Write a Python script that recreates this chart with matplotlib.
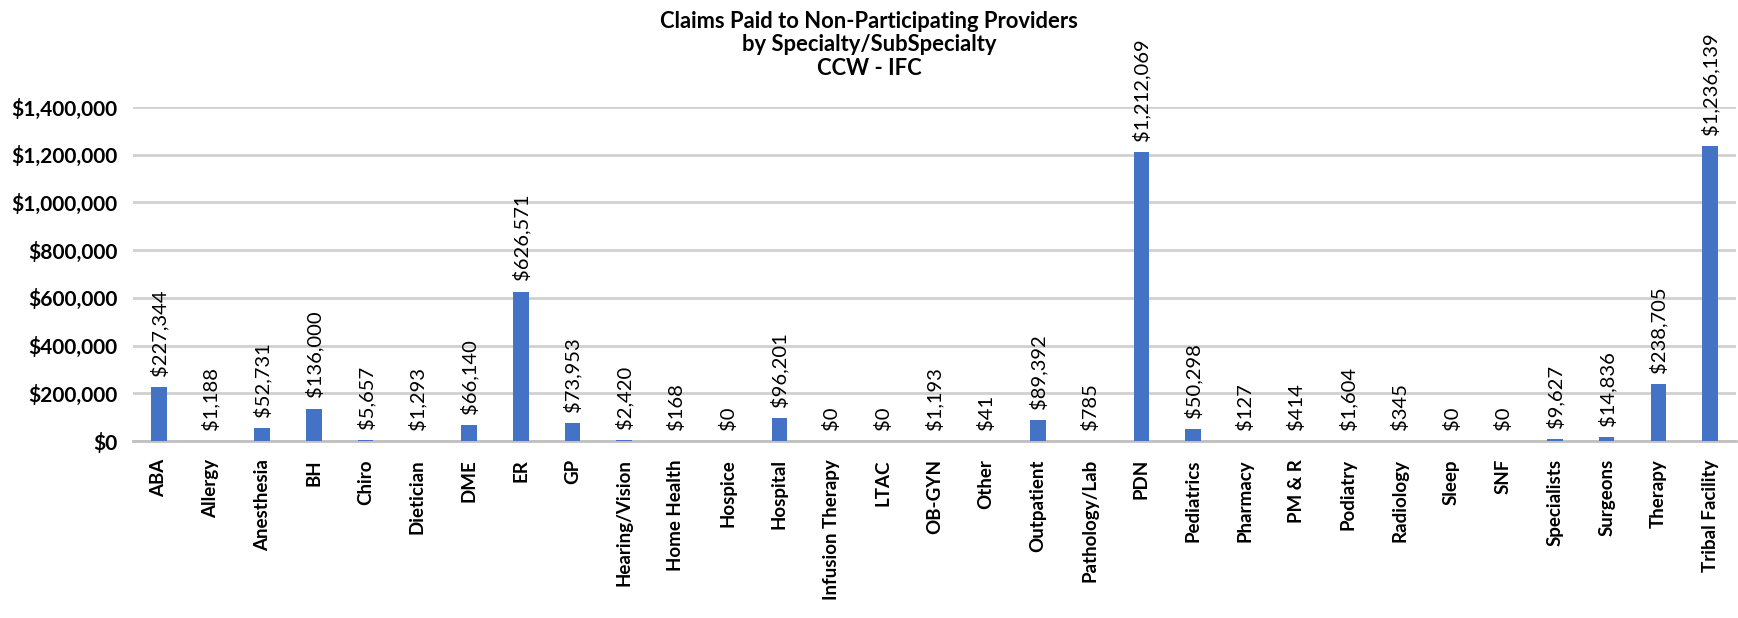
import matplotlib.pyplot as plt
from matplotlib.ticker import FuncFormatter

plt.rcParams['font.family'] = ['Lato', 'DejaVu Sans']

specialties = ["ABA", "Allergy", "Anesthesia", "BH", "Chiro", "Dietician", "DME", "ER", "GP",
               "Hearing/Vision", "Home Health", "Hospice", "Hospital", "Infusion Therapy", "LTAC",
               "OB-GYN", "Other", "Outpatient", "Pathology/Lab", "PDN", "Pediatrics", "Pharmacy",
               "PM & R", "Podiatry", "Radiology", "Sleep", "SNF", "Specialists", "Surgeons",
               "Therapy", "Tribal Facility"]
paid = [227344, 1188, 52731, 136000, 5657, 1293, 66140, 626571, 73953,
        2420, 168, 0, 96201, 0, 0,
        1193, 41, 89392, 785, 1212069, 50298, 127,
        414, 1604, 345, 0, 0, 9627, 14836,
        238705, 1236139]
y_ticks = [0, 200000, 400000, 600000, 800000, 1000000, 1200000, 1400000]

fig = plt.figure(figsize=(17.38, 6.18), dpi=100)
ax = fig.add_axes([0.0765, 0.2864, 0.9223, 0.5405])

x = range(len(specialties))
bars = ax.bar(x, paid, width=0.30, color="#4472C4", zorder=3)

for xi, v in zip(x, paid):
    ax.annotate(f"${v:,.0f}", (xi, v), xytext=(0, 8), textcoords="offset points",
                rotation=90, ha="center", va="bottom", fontsize=14.5, color="black",
                annotation_clip=False)

ax.set_xlim(-0.5, len(specialties) - 0.5)
ax.set_ylim(0, 1400000)
ax.set_yticks(y_ticks)
ax.yaxis.set_major_formatter(FuncFormatter(lambda v, p: f"${v:,.0f}"))
ax.set_xticks(list(x))
ax.set_xticklabels(specialties, rotation=90, fontsize=13.5, fontweight="bold")
for lbl in ax.get_yticklabels():
    lbl.set_fontsize(15)
    lbl.set_fontweight("bold")
ax.tick_params(axis="both", length=0)
ax.tick_params(axis="y", pad=11)
ax.tick_params(axis="x", pad=13)

ax.grid(axis="y", color="#d0d0d0", linewidth=2, zorder=0)
for side in ["top", "right", "left"]:
    ax.spines[side].set_visible(False)
ax.spines["bottom"].set_color("#c0c0c0")
ax.spines["bottom"].set_linewidth(2)

fig.text(0.5, 0.983, "Claims Paid to Non-Participating Providers\nby Specialty/SubSpecialty\nCCW - IFC",
         ha="center", va="top", fontsize=15.8, fontweight="bold", linespacing=1.17)

fig.savefig("out.png", dpi=100)
